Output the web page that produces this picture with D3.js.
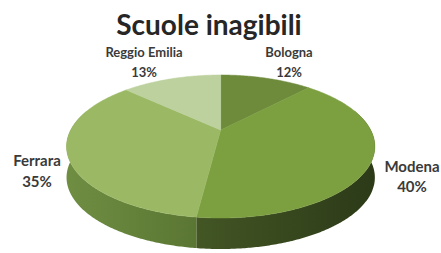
<!DOCTYPE html>
<html><head><meta charset="utf-8">
<script src="https://cdn.jsdelivr.net/npm/d3@7"></script>
<style>body{margin:0;background:#fff}svg{display:block}</style>
</head><body>
<script>
const categories = ["Bologna", "Modena", "Ferrara", "Reggio Emilia"];
const values = [12, 40, 35, 13];
const percentLabels = ["12%", "40%", "35%", "13%"];
const title = "Scuole inagibili";

// styles / layout (kept separate from data)
const topColors = ["#6d8b3b", "#7c9f40", "#9bb965", "#bcd19d"];
const sideDark = ["#4a6128", "#2c3a18", "#5a7633", "#8aa66a"];
const sideLight = ["#5a7530", "#435624", "#6f8e42", "#a0bb7c"];
const labelPos = [[289, 57, 77, 13], [412, 172, 192, 15], [37, 166, 187, 15], [144, 57, 77, 13]];

const W = 441, H = 253;
const cx = 220.7, cy = 130, s = 150, b = 67.7, k = 0.2308, D = 31;

function proj(a, dy) {
  const u = Math.sin(a), v = -Math.cos(a);
  const w = 1 - k * v;
  return [cx + s * u / w, cy + b * v / w + (dy || 0)];
}

const svg = d3.select("body").append("svg").attr("width", W).attr("height", H);
const defs = svg.append("defs");

const pie = d3.pie().sort(null).value(d => d).startAngle(0).endAngle(2 * Math.PI);
const arcs = pie(values);

function arcPts(a0, a1, dy) {
  const n = Math.max(2, Math.ceil((a1 - a0) / 0.01));
  return d3.range(n + 1).map(i => proj(a0 + (a1 - a0) * i / n, dy));
}

arcs.forEach((d, i) => {
  const g = defs.append("linearGradient").attr("id", "side" + i)
    .attr("x1", "0").attr("x2", "1").attr("y1", "0").attr("y2", "0");
  g.append("stop").attr("offset", "0").attr("stop-color", sideLight[i]);
  g.append("stop").attr("offset", "1").attr("stop-color", sideDark[i]);
});

const line = d3.line();

const sides = svg.append("g");
arcs.forEach((d, i) => {
  const a0 = Math.max(d.startAngle, Math.PI / 2 - 0.3);
  const a1 = Math.min(d.endAngle, 3 * Math.PI / 2 + 0.3);
  if (a1 <= a0) return;
  const topE = arcPts(a0, a1, 0);
  const botE = arcPts(a0, a1, D).reverse();
  sides.append("path").attr("d", line(topE.concat(botE)) + "Z")
    .attr("fill", "url(#side" + i + ")");
});

const tops = svg.append("g");
arcs.forEach((d, i) => {
  const pts = [[cx, cy]].concat(arcPts(d.startAngle, d.endAngle, 0));
  tops.append("path").attr("d", line(pts) + "Z")
    .attr("fill", topColors[i]).attr("stroke", topColors[i]).attr("stroke-width", 0.5);
});

svg.append("text").attr("x", 209).attr("y", 35).attr("text-anchor", "middle")
  .attr("font-family", "Lato, 'Open Sans', sans-serif").attr("font-weight", "bold")
  .attr("font-size", 28).attr("fill", "#262626").text(title);

const lab = svg.append("g").attr("font-family", "Lato, 'Open Sans', sans-serif")
  .attr("font-weight", "bold").attr("fill", "#3a3a3a")
  .attr("text-anchor", "middle");
categories.forEach((c, i) => {
  const p = labelPos[i];
  lab.append("text").attr("x", p[0]).attr("y", p[1]).attr("font-size", p[3]).text(c);
  lab.append("text").attr("x", p[0]).attr("y", p[2]).attr("font-size", p[3]).text(percentLabels[i]);
});
</script>
</body></html>
